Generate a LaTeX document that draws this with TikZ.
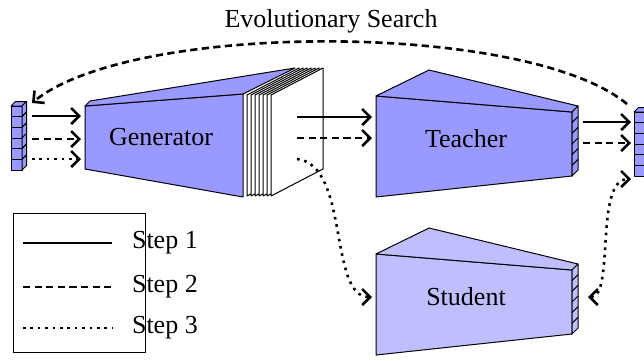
\documentclass[tikz,border=0pt]{standalone}
\usepackage{fontspec}
\setmainfont{LiberationSerif}[Extension=.ttf, UprightFont=*-Regular, BoldFont=*-Bold, ItalicFont=*-Italic]
\usetikzlibrary{arrows.meta}
\colorlet{netblue}{blue!40}
\colorlet{studblue}{blue!25}
\tikzset{
    face/.style={draw=black, line width=0.5pt, line join=round},
    solidln/.style={line width=1.3pt},
    dashln/.style={solidln, dash pattern=on 3.6pt off 2.2pt},
    dotln/.style={solidln, dash pattern=on 1.3pt off 2.4pt},
    arr/.style={-{Straight Barb[length=4pt,width=8pt]}},
}
\begin{document}
\begin{tikzpicture}[x=0.5pt,y=-0.5pt,font=\rmfamily\fontsize{13pt}{15pt}\selectfont]
                \clip (0,0) rectangle (644,360);
                % code bars
                \foreach \bx/\by in {11/106,634/112}
                {
                    \draw[face,fill=netblue] (\bx,\by) -- ++(4.5,-4.5) -- ++(11,0) -- ++(-4.5,4.5) -- cycle;
                    \foreach \k in {0,...,5}
                    {
                        \draw[face,fill=netblue] (\bx,\by+\k*10.667) rectangle ++(11,10.667);
                        \draw[face,fill=netblue] (\bx+11,\by+\k*10.667) -- ++(4.5,-4.5) -- ++(0,10.667) -- ++(-4.5,4.5) -- cycle;
                    }
                }
                % generator with its stack of outputs
                \draw[face,fill=netblue] (85,106) -- (243,94) -- (243,197) -- (85,169) -- cycle;
                \draw[face,fill=netblue] (85,106) -- (90,101) -- (295,68) -- (243,94) -- cycle;
                \foreach \x in {247,251,...,271}
                    \draw[face,fill=white] (\x,95) -- ++(52,-27) -- ++(0,101) -- ++(-52,27) -- cycle;
                \node (gen) at (161,137) {Generator};
                % teacher and student
                \foreach \dy/\c/\nm/\txt in {0/netblue/teacher/Teacher,158/studblue/student/Student}
                {
                    \begin{scope}[shift={(0,\dy)}]
                        \draw[face,fill=\c] (376,96) -- (572,112) -- (572,176) -- (376,197) -- cycle;
                        \draw[face,fill=\c] (376,96) -- (429,70) -- (578,106) -- (572,112) -- cycle;
                        \draw[face,fill=\c] (572,112) -- (578,106) -- (578,170) -- (572,176) -- cycle;
                        \foreach \k in {1,...,5}
                            \draw[face] (572,112+\k*10.667) -- ++(6,-6);
                        \node (\nm) at (466,139) {\txt};
                    \end{scope}
                }
                % ports
                \foreach[count=\i] \y in {116,139,159}
                {
                    \coordinate (zin\i) at (32,\y);
                    \coordinate (gin\i) at (81,\y);
                }
                \foreach[count=\i] \y in {117,138,159}
                    \coordinate (gout\i) at (297,\y);
                \coordinate (tin1) at (372,117);
                \coordinate (tin2) at (372,138);
                \coordinate (sin) at (372,297);
                \coordinate (tout1) at (583,122);
                \coordinate (tout2) at (583,143);
                \coordinate (rin1) at (631,122);
                \coordinate (rin2) at (631,143);
                \coordinate (rin3) at (631,179);
                \coordinate (sout) at (588,297);
                \coordinate (evo) at (627,104);
                \coordinate (ztop) at (32,103);
                % connectors
                \draw[solidln,arr] (zin1) -- (gin1);
                \draw[dashln,arr] (zin2) -- (gin2);
                \draw[dotln,arr] (zin3) -- (gin3);
                \draw[solidln,arr] (gout1) -- (tin1);
                \draw[dashln,arr] (gout2) -- (tin2);
                \draw[dotln,arr] (gout3) .. controls (350,165) and (328,297) .. (sin);
                \draw[solidln,arr] (tout1) -- (rin1);
                \draw[dashln,arr] (tout2) -- (rin2);
                \draw[dotln,{Straight Barb[length=4pt,width=8pt]}-{Straight Barb[length=4pt,width=8pt]}] (sout) .. controls (615,297) and (594,179) .. (rin3);
                \draw[dashln,arr] (evo) .. controls (527,21) and (132,21) .. (ztop);
                \node[anchor=base] (title) at (331,27) {Evolutionary Search};
                % legend
                \draw[line width=0.5pt] (13,213) rectangle (145,352);
                \foreach[count=\i] \y/\s in {243/solidln,287/dashln,328/dotln}
                {
                    \draw[\s] (23,\y) -- (112,\y);
                    \node[anchor=base west] (leg\i) at (125,\y+5.5) {Step \i};
                }
            \end{tikzpicture}
\end{document}
